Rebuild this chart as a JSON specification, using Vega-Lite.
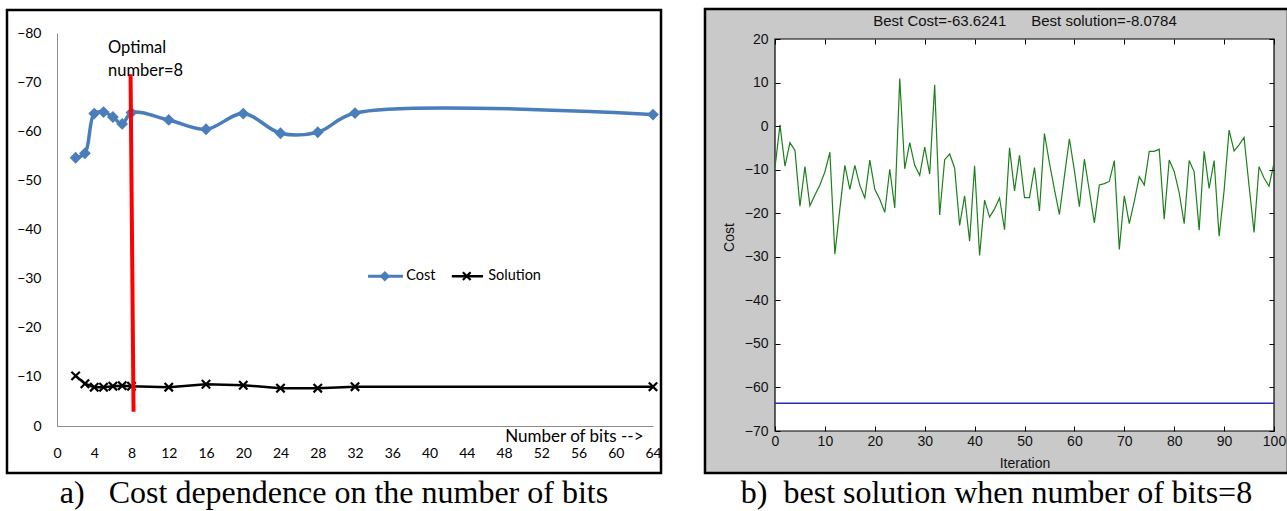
{
  "$schema": "https://vega.github.io/schema/vega-lite/v6.json",
  "background": "white",
  "padding": {"left": 5, "top": 7, "right": 0, "bottom": 0},
  "spacing": 40,
  "config": {"view": {"stroke": null}, "axis": {"grid": false}},
  "hconcat": [
    {
      "width": 596,
      "height": 393,
      "title": {"text": "a)\u00a0\u00a0\u00a0Cost dependence on the number of bits", "orient": "bottom", "anchor": "middle", "frame": "bounds", "font": "Liberation Serif", "fontSize": 32, "fontWeight": "normal", "color": "black", "baseline": "alphabetic", "offset": 29},
      "resolve": {"axis": {"x": "independent", "y": "independent"}},
      "data": {"values": [
        {"bits": 2, "value": -54.6, "series": "Cost"},
        {"bits": 3, "value": -55.5, "series": "Cost"},
        {"bits": 4, "value": -63.6, "series": "Cost"},
        {"bits": 5, "value": -63.9, "series": "Cost"},
        {"bits": 6, "value": -62.9, "series": "Cost"},
        {"bits": 7, "value": -61.5, "series": "Cost"},
        {"bits": 8, "value": -63.8, "series": "Cost"},
        {"bits": 12, "value": -62.3, "series": "Cost"},
        {"bits": 16, "value": -60.4, "series": "Cost"},
        {"bits": 20, "value": -63.6, "series": "Cost"},
        {"bits": 24, "value": -59.6, "series": "Cost"},
        {"bits": 28, "value": -59.8, "series": "Cost"},
        {"bits": 32, "value": -63.7, "series": "Cost"},
        {"bits": 64, "value": -63.4, "series": "Cost"},
        {"bits": 2, "value": -10.2, "series": "Solution"},
        {"bits": 3, "value": -8.6, "series": "Solution"},
        {"bits": 4, "value": -7.9, "series": "Solution"},
        {"bits": 5, "value": -7.9, "series": "Solution"},
        {"bits": 6, "value": -8.1, "series": "Solution"},
        {"bits": 7, "value": -8.2, "series": "Solution"},
        {"bits": 8, "value": -8.1, "series": "Solution"},
        {"bits": 12, "value": -7.9, "series": "Solution"},
        {"bits": 16, "value": -8.5, "series": "Solution"},
        {"bits": 20, "value": -8.3, "series": "Solution"},
        {"bits": 24, "value": -7.7, "series": "Solution"},
        {"bits": 28, "value": -7.7, "series": "Solution"},
        {"bits": 32, "value": -8.0, "series": "Solution"},
        {"bits": 64, "value": -8.0, "series": "Solution"}
      ]},
      "layer": [
        {
          "data": {"values": [{}]},
          "mark": {"type": "rect", "filled": false, "stroke": "black", "strokeWidth": 2.5},
          "encoding": {
            "x": {"datum": -5.37, "type": "quantitative", "scale": {"domain": [0, 64], "nice": false, "zero": false}, "axis": null},
            "x2": {"datum": 64.86},
            "y": {"datum": -84.68, "type": "quantitative", "scale": {"domain": [-80, 0], "reverse": true, "nice": false, "zero": false}, "axis": null},
            "y2": {"datum": 9.57}
          }
        },
        {
          "transform": [{"filter": "datum.series === 'Cost'"}],
          "mark": {"type": "line", "interpolate": "catmull-rom", "color": "#4a7ebb", "strokeWidth": 3.5},
          "encoding": {
            "x": {"field": "bits", "type": "quantitative", "scale": {"domain": [0, 64], "nice": false, "zero": false},
              "axis": {"values": [0,4,8,12,16,20,24,28,32,36,40,44,48,52,56,60,64], "ticks": false, "domainColor": "#8c8c8c", "domainWidth": 1, "labelFont": "Lato", "labelFontSize": 14, "labelColor": "black", "labelPadding": 20, "labelFlush": false, "labelOverlap": false, "title": "Number of bits -->", "titleFont": "Lato", "titleFontSize": 17, "titleFontWeight": "normal", "titleColor": "black", "titleAnchor": "end", "titleAlign": "right", "titleBaseline": "middle", "titleX": 586, "titleY": 10}},
            "y": {"field": "value", "type": "quantitative", "scale": {"domain": [-80, 0], "reverse": true, "nice": false, "zero": false},
              "axis": {"values": [-80,-70,-60,-50,-40,-30,-20,-10,0], "ticks": false, "domainColor": "#8c8c8c", "domainWidth": 1, "labelFont": "Lato", "labelFontSize": 14, "labelColor": "black", "labelPadding": 16, "labelFlush": false, "title": null}}
          }
        },
        {
          "transform": [{"filter": "datum.series === 'Cost'"}],
          "mark": {"type": "point", "shape": "diamond", "filled": true, "color": "#4a7ebb", "size": 140, "opacity": 1},
          "encoding": {
            "x": {"field": "bits", "type": "quantitative", "axis": null},
            "y": {"field": "value", "type": "quantitative", "axis": null}
          }
        },
        {
          "transform": [{"filter": "datum.series === 'Solution'"}],
          "mark": {"type": "line", "color": "black", "strokeWidth": 2.5},
          "encoding": {
            "x": {"field": "bits", "type": "quantitative", "axis": null},
            "y": {"field": "value", "type": "quantitative", "axis": null}
          }
        },
        {
          "transform": [{"filter": "datum.series === 'Solution'"}],
          "mark": {"type": "point", "shape": "M-1,-1L1,1M-1,1L1,-1", "filled": false, "color": "black", "strokeWidth": 2.2, "size": 70, "opacity": 1},
          "encoding": {
            "x": {"field": "bits", "type": "quantitative", "axis": null},
            "y": {"field": "value", "type": "quantitative", "axis": null}
          }
        },
        {
          "data": {"values": [{}]},
          "mark": {"type": "rule", "color": "#ff0000", "strokeWidth": 4},
          "encoding": {
            "x": {"datum": 7.9, "type": "quantitative", "axis": null},
            "x2": {"datum": 8.22},
            "y": {"datum": -71.6, "type": "quantitative", "axis": null},
            "y2": {"datum": -2.9}
          }
        },
        {
          "data": {"values": [{}]},
          "mark": {"type": "text", "text": ["Optimal", "number=8"], "font": "Lato", "fontSize": 16.5, "align": "left", "baseline": "middle", "lineHeight": 23, "color": "black"},
          "encoding": {
            "x": {"datum": 5.48, "type": "quantitative", "axis": null},
            "y": {"datum": -76.95, "type": "quantitative", "axis": null}
          }
        },
        {
          "data": {"values": [{}]},
          "mark": {"type": "rule", "color": "#4a7ebb", "strokeWidth": 3},
          "encoding": {
            "x": {"datum": 33.4, "type": "quantitative", "axis": null},
            "x2": {"datum": 37.15},
            "y": {"datum": -30.5, "type": "quantitative", "axis": null}
          }
        },
        {
          "data": {"values": [{}]},
          "mark": {"type": "point", "shape": "diamond", "filled": true, "color": "#4a7ebb", "size": 110, "opacity": 1},
          "encoding": {
            "x": {"datum": 35.2, "type": "quantitative", "axis": null},
            "y": {"datum": -30.5, "type": "quantitative", "axis": null}
          }
        },
        {
          "data": {"values": [{}]},
          "mark": {"type": "text", "text": "Cost", "font": "Lato", "fontSize": 14.5, "align": "left", "baseline": "middle", "color": "black"},
          "encoding": {
            "x": {"datum": 37.5, "type": "quantitative", "axis": null},
            "y": {"datum": -30.5, "type": "quantitative", "axis": null}
          }
        },
        {
          "data": {"values": [{}]},
          "mark": {"type": "rule", "color": "black", "strokeWidth": 2.5},
          "encoding": {
            "x": {"datum": 42.4, "type": "quantitative", "axis": null},
            "x2": {"datum": 45.75},
            "y": {"datum": -30.5, "type": "quantitative", "axis": null}
          }
        },
        {
          "data": {"values": [{}]},
          "mark": {"type": "point", "shape": "M-1,-1L1,1M-1,1L1,-1", "filled": false, "color": "black", "strokeWidth": 2.2, "size": 60, "opacity": 1},
          "encoding": {
            "x": {"datum": 44.0, "type": "quantitative", "axis": null},
            "y": {"datum": -30.5, "type": "quantitative", "axis": null}
          }
        },
        {
          "data": {"values": [{}]},
          "mark": {"type": "text", "text": "Solution", "font": "Lato", "fontSize": 14.5, "align": "left", "baseline": "middle", "color": "black"},
          "encoding": {
            "x": {"datum": 46.3, "type": "quantitative", "axis": null},
            "y": {"datum": -30.5, "type": "quantitative", "axis": null}
          }
        }
      ]
    },
    {
      "width": 499,
      "height": 398,
      "title": {"text": "b)\u00a0\u00a0best solution when number of bits=8", "orient": "bottom", "anchor": "middle", "frame": "bounds", "font": "Liberation Serif", "fontSize": 32, "fontWeight": "normal", "color": "black", "baseline": "alphabetic", "offset": 29},
      "resolve": {"axis": {"x": "independent", "y": "independent"}},
      "layer": [
        {
          "data": {"values": [{}]},
          "mark": {"type": "rect", "fill": "#c9c9c9", "stroke": "black", "strokeWidth": 2.5},
          "encoding": {
            "x": {"datum": -14.03, "type": "quantitative", "scale": {"domain": [0, 100], "nice": false, "zero": false}, "axis": null},
            "x2": {"datum": 102.8},
            "y": {"datum": 26.89, "type": "quantitative", "scale": {"domain": [-70, 21.378], "nice": false, "zero": false}, "axis": null},
            "y2": {"datum": -79.64}
          }
        },
        {
          "data": {"values": [{}]},
          "mark": {"type": "rect", "fill": "white", "stroke": "black", "strokeWidth": 1.2},
          "encoding": {
            "x": {"datum": 0, "type": "quantitative", "axis": null},
            "x2": {"datum": 100},
            "y": {"datum": 20, "type": "quantitative", "axis": null},
            "y2": {"datum": -70}
          }
        },
        {
          "data": {"values": [
            {"iteration": 0, "cost": -9.5}, {"iteration": 1, "cost": 0.3}, {"iteration": 2, "cost": -9.2}, {"iteration": 3, "cost": -3.8}, {"iteration": 4, "cost": -5.6},
            {"iteration": 5, "cost": -18.4}, {"iteration": 6, "cost": -9.3}, {"iteration": 7, "cost": -18.3}, {"iteration": 8, "cost": -15.8}, {"iteration": 9, "cost": -13.5},
            {"iteration": 10, "cost": -10.5}, {"iteration": 11, "cost": -6}, {"iteration": 12, "cost": -29.4}, {"iteration": 13, "cost": -19}, {"iteration": 14, "cost": -9},
            {"iteration": 15, "cost": -14.5}, {"iteration": 16, "cost": -9}, {"iteration": 17, "cost": -13.6}, {"iteration": 18, "cost": -16.5}, {"iteration": 19, "cost": -7.8},
            {"iteration": 20, "cost": -14.5}, {"iteration": 21, "cost": -16.8}, {"iteration": 22, "cost": -19.8}, {"iteration": 23, "cost": -9.9}, {"iteration": 24, "cost": -18.8},
            {"iteration": 25, "cost": 10.9}, {"iteration": 26, "cost": -9.8}, {"iteration": 27, "cost": -3.8}, {"iteration": 28, "cost": -9}, {"iteration": 29, "cost": -11.3},
            {"iteration": 30, "cost": -4.8}, {"iteration": 31, "cost": -11}, {"iteration": 32, "cost": 9.5}, {"iteration": 33, "cost": -20.4}, {"iteration": 34, "cost": -7.7},
            {"iteration": 35, "cost": -6.4}, {"iteration": 36, "cost": -9.6}, {"iteration": 37, "cost": -22.8}, {"iteration": 38, "cost": -16}, {"iteration": 39, "cost": -26.4},
            {"iteration": 40, "cost": -9.1}, {"iteration": 41, "cost": -29.7}, {"iteration": 42, "cost": -17}, {"iteration": 43, "cost": -20.9}, {"iteration": 44, "cost": -19},
            {"iteration": 45, "cost": -16.5}, {"iteration": 46, "cost": -23.8}, {"iteration": 47, "cost": -5}, {"iteration": 48, "cost": -14.9}, {"iteration": 49, "cost": -6.7},
            {"iteration": 50, "cost": -16.4}, {"iteration": 51, "cost": -16.4}, {"iteration": 52, "cost": -9.5}, {"iteration": 53, "cost": -19.5}, {"iteration": 54, "cost": -1.7},
            {"iteration": 55, "cost": -8.5}, {"iteration": 56, "cost": -14.5}, {"iteration": 57, "cost": -20.3}, {"iteration": 58, "cost": -11.5}, {"iteration": 59, "cost": -2.9},
            {"iteration": 60, "cost": -10.2}, {"iteration": 61, "cost": -18.5}, {"iteration": 62, "cost": -7.6}, {"iteration": 63, "cost": -14.9}, {"iteration": 64, "cost": -22.2},
            {"iteration": 65, "cost": -13.5}, {"iteration": 66, "cost": -13.2}, {"iteration": 67, "cost": -12.7}, {"iteration": 68, "cost": -7.9}, {"iteration": 69, "cost": -28.3},
            {"iteration": 70, "cost": -16}, {"iteration": 71, "cost": -22.4}, {"iteration": 72, "cost": -17.3}, {"iteration": 73, "cost": -11.6}, {"iteration": 74, "cost": -13.5},
            {"iteration": 75, "cost": -5.8}, {"iteration": 76, "cost": -5.8}, {"iteration": 77, "cost": -5.3}, {"iteration": 78, "cost": -21.4}, {"iteration": 79, "cost": -7.8},
            {"iteration": 80, "cost": -10.4}, {"iteration": 81, "cost": -15.3}, {"iteration": 82, "cost": -22.4}, {"iteration": 83, "cost": -7.9}, {"iteration": 84, "cost": -10.5},
            {"iteration": 85, "cost": -23.9}, {"iteration": 86, "cost": -5.8}, {"iteration": 87, "cost": -14.3}, {"iteration": 88, "cost": -7.9}, {"iteration": 89, "cost": -25.3},
            {"iteration": 90, "cost": -14.8}, {"iteration": 91, "cost": -0.9}, {"iteration": 92, "cost": -5.7}, {"iteration": 93, "cost": -4.3}, {"iteration": 94, "cost": -2.6},
            {"iteration": 95, "cost": -13.7}, {"iteration": 96, "cost": -24.4}, {"iteration": 97, "cost": -9.3}, {"iteration": 98, "cost": -11.9}, {"iteration": 99, "cost": -13.8},
            {"iteration": 100, "cost": -8.5}
          ]},
          "mark": {"type": "line", "color": "#1c801c", "strokeWidth": 1.2},
          "encoding": {
            "x": {"field": "iteration", "type": "quantitative",
              "axis": {"orient": "bottom", "values": [0,10,20,30,40,50,60,70,80,90,100], "tickSize": -5, "tickColor": "black", "domain": false, "labelFont": "Liberation Sans", "labelFontSize": 14, "labelColor": "#111111", "labelPadding": 8, "labelFlush": false, "labelOverlap": false, "title": "Iteration", "titleFont": "Liberation Sans", "titleFontSize": 14, "titleFontWeight": "normal", "titleColor": "#111111", "titlePadding": 8, "zindex": 1}},
            "y": {"field": "cost", "type": "quantitative",
              "axis": {"orient": "left", "values": [-70,-60,-50,-40,-30,-20,-10,0,10,20], "tickSize": -5, "tickColor": "black", "domain": false, "labelFont": "Liberation Sans", "labelFontSize": 14, "labelColor": "#111111", "labelPadding": 12, "labelFlush": false, "labelOverlap": false, "title": "Cost", "titleFont": "Liberation Sans", "titleFontSize": 14, "titleFontWeight": "normal", "titleColor": "#111111", "titlePadding": 8, "titleY": 204, "zindex": 1}}
          }
        },
        {
          "data": {"values": [{}]},
          "mark": {"type": "rule", "color": "#2030b0", "strokeWidth": 1.3},
          "encoding": {
            "x": {"datum": 0, "type": "quantitative",
              "axis": {"orient": "top", "offset": -6, "values": [0,10,20,30,40,50,60,70,80,90,100], "tickSize": -5, "tickColor": "black", "domain": false, "labels": false, "title": "Best Cost=-63.6241\u00a0\u00a0\u00a0\u00a0\u00a0\u00a0Best solution=-8.0784", "titleFont": "Liberation Sans", "titleFontSize": 15, "titleFontWeight": "normal", "titleColor": "#111111", "titlePadding": 10, "zindex": 1}},
            "x2": {"datum": 100},
            "y": {"datum": -63.6241, "type": "quantitative",
              "axis": {"orient": "right", "values": [-70,-60,-50,-40,-30,-20,-10,0,10,20], "tickSize": -5, "tickColor": "black", "domain": false, "labels": false, "title": null, "zindex": 1}}
          }
        }
      ]
    }
  ]
}
